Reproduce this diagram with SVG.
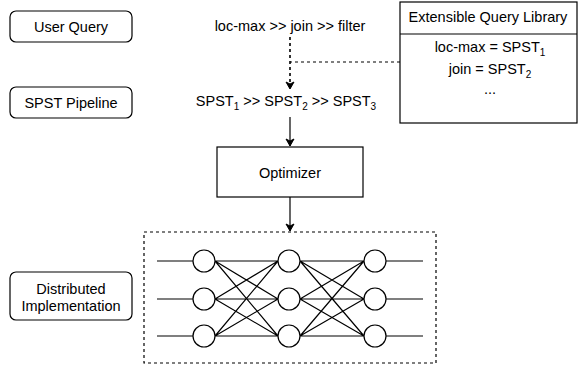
<svg xmlns="http://www.w3.org/2000/svg" width="579" height="371" viewBox="0 0 579 371">
<defs>
<marker id="ah" markerWidth="10" markerHeight="10" refX="8" refY="5" orient="auto" markerUnits="userSpaceOnUse">
<path d="M1,1 L8,5 L1,9 L3,5 Z" fill="#000" stroke="#000" stroke-width="1"/>
</marker>
<style>
text{font-family:"Liberation Sans",Arial,sans-serif;font-size:14.5px;fill:#000;text-anchor:middle}
.box{fill:#fff;stroke:#000;stroke-width:1.2}
.dash{fill:none;stroke:#000;stroke-width:1.2;stroke-dasharray:3,3}
.ln{stroke:#000;stroke-width:1.2;fill:none}
.nd{fill:#fff;stroke:#000;stroke-width:1.2}
.sub{font-size:10px}
</style>
</defs>
<rect width="579" height="371" fill="#fff"/>
<g id="user-query"><rect class="box" x="10" y="11" width="122" height="31" rx="6"/><text x="71" y="32">User Query</text></g>
<g id="spst-pipeline"><rect class="box" x="10" y="87" width="122" height="31" rx="6"/><text x="71" y="108">SPST Pipeline</text></g>
<g id="distributed"><rect class="box" x="10" y="272" width="122" height="48" rx="6"/><text x="71" y="294">Distributed</text><text x="71" y="311">Implementation</text></g>
<g id="query-text"><text x="290" y="31">loc-max &gt;&gt; join &gt;&gt; filter</text></g>
<g id="spst-text"><text x="286" y="106">SPST<tspan class="sub" dy="4">1</tspan><tspan dy="-4"> &gt;&gt; SPST</tspan><tspan class="sub" dy="4">2</tspan><tspan dy="-4"> &gt;&gt; SPST</tspan><tspan class="sub" dy="4">3</tspan></text></g>
<g id="library"><rect class="box" x="400" y="2" width="177" height="121"/><line class="ln" x1="400" y1="34" x2="577" y2="34"/><text x="488" y="22">Extensible Query Library</text><text x="490" y="52">loc-max = SPST<tspan class="sub" dy="4">1</tspan></text><text x="490" y="74">join = SPST<tspan class="sub" dy="4">2</tspan></text><text x="490" y="94">...</text></g>
<g id="optimizer"><rect class="box" x="217" y="147" width="146" height="50"/><text x="290" y="178">Optimizer</text></g>
<g id="network">
<rect class="dash" x="144" y="232" width="292" height="131"/>
<g class="ln">
<line x1="157" y1="261" x2="193" y2="261"/><line x1="157" y1="299" x2="193" y2="299"/><line x1="157" y1="336" x2="193" y2="336"/>
<line x1="386" y1="261" x2="423" y2="261"/><line x1="386" y1="299" x2="423" y2="299"/><line x1="386" y1="336" x2="423" y2="336"/>
<path d="M215,261 L278,261 M215,261 L278,299 M215,261 L278,336 M215,299 L278,261 M215,299 L278,299 M215,299 L278,336 M215,336 L278,261 M215,336 L278,299 M215,336 L278,336"/>
<path d="M300,261 L364,261 M300,261 L364,299 M300,261 L364,336 M300,299 L364,261 M300,299 L364,299 M300,299 L364,336 M300,336 L364,261 M300,336 L364,299 M300,336 L364,336"/>
</g>
<g class="nd">
<circle cx="204" cy="261" r="11"/><circle cx="204" cy="299" r="11"/><circle cx="204" cy="336" r="11"/>
<circle cx="289" cy="261" r="11"/><circle cx="289" cy="299" r="11"/><circle cx="289" cy="336" r="11"/>
<circle cx="375" cy="261" r="11"/><circle cx="375" cy="299" r="11"/><circle cx="375" cy="336" r="11"/>
</g>
</g>
<g id="connectors">
<line class="dash" x1="290" y1="37" x2="290" y2="89" marker-end="url(#ah)" style="stroke-width:1.6"/>
<line class="dash" x1="400" y1="62" x2="290" y2="62"/>
<line class="ln" x1="290" y1="117" x2="290" y2="146" marker-end="url(#ah)"/>
<line class="ln" x1="290" y1="197" x2="290" y2="231" marker-end="url(#ah)"/>
</g>
</svg>
